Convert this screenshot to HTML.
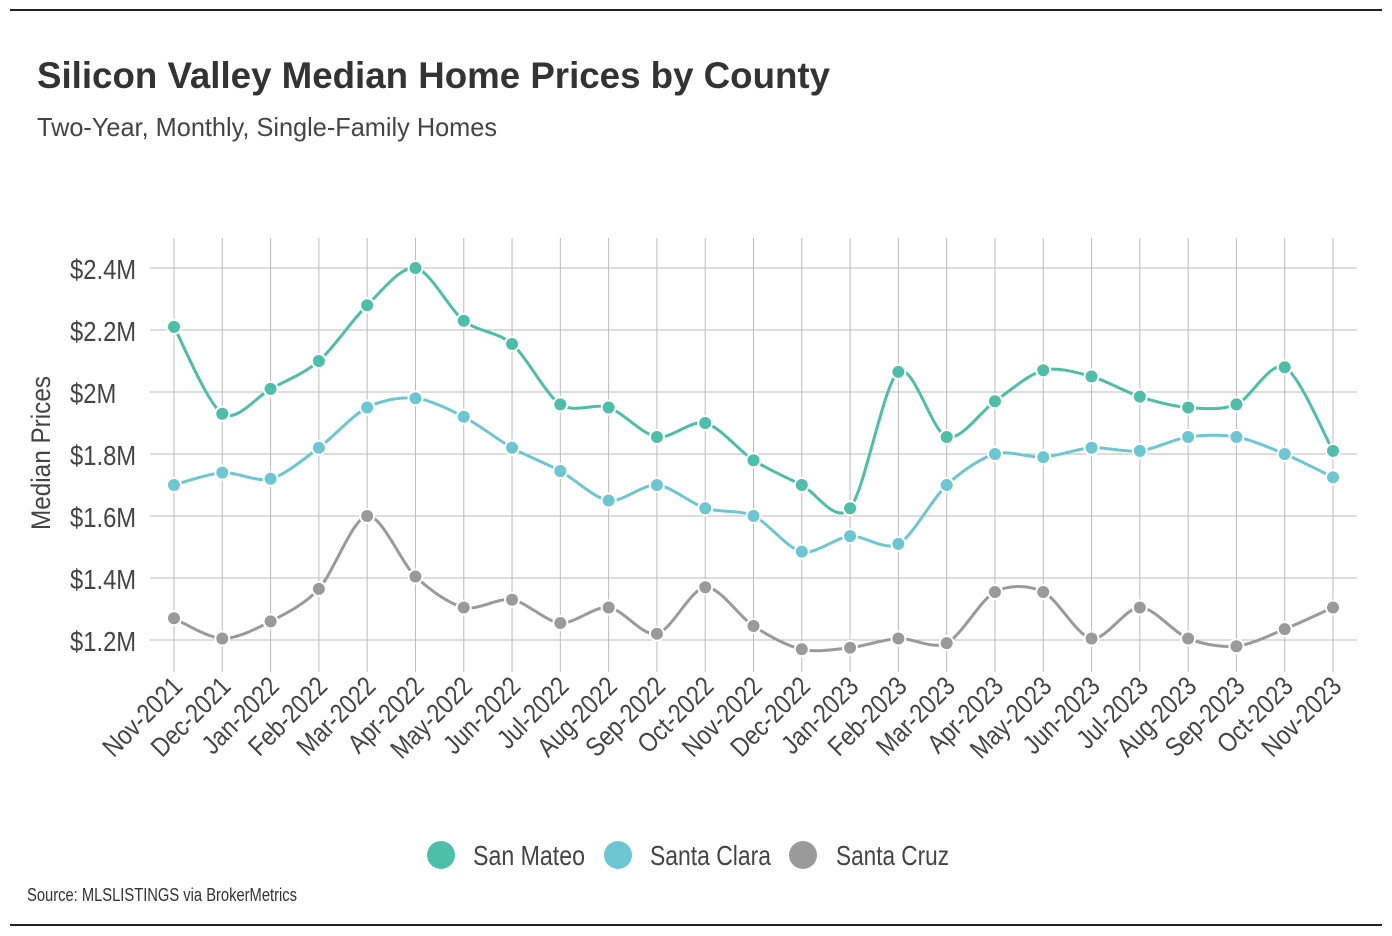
<!DOCTYPE html>
<html><head><meta charset="utf-8"><style>
body{margin:0;background:#fff;}
svg{display:block;font-family:"Liberation Sans",sans-serif;}
</style></head><body>
<svg id="chart" width="1392" height="936" viewBox="0 0 1392 936">
<line x1="10" y1="10" x2="1382" y2="10" stroke="#222" stroke-width="2"/>
<line x1="10" y1="925" x2="1382" y2="925" stroke="#222" stroke-width="2"/>
<text x="37" y="88" font-size="37" font-weight="bold" fill="#333" textLength="793" lengthAdjust="spacingAndGlyphs">Silicon Valley Median Home Prices by County</text>
<text x="37" y="136" font-size="26" fill="#444" textLength="460" lengthAdjust="spacingAndGlyphs">Two-Year, Monthly, Single-Family Homes</text>
<text transform="translate(50,453) rotate(-90)" text-anchor="middle" font-size="27" fill="#444" textLength="154" lengthAdjust="spacingAndGlyphs">Median Prices</text>
<g id="grid"></g><g id="series"></g><g id="xlabels"></g>
<g>
<g><circle cx="441" cy="855" r="14" fill="#4dbfa8"/><text x="473" y="865" font-size="28" fill="#444" textLength="112" lengthAdjust="spacingAndGlyphs">San Mateo</text></g>
<g><circle cx="618" cy="855" r="14" fill="#6cc7d3"/><text x="650" y="865" font-size="28" fill="#444" textLength="121" lengthAdjust="spacingAndGlyphs">Santa Clara</text></g>
<g><circle cx="803" cy="855" r="14" fill="#9a9a9a"/><text x="836" y="865" font-size="28" fill="#444" textLength="113" lengthAdjust="spacingAndGlyphs">Santa Cruz</text></g>
</g>
<text x="27" y="901" font-size="18" fill="#333" textLength="270" lengthAdjust="spacingAndGlyphs">Source:  MLSLISTINGS via BrokerMetrics</text>
</svg>
<script>
const categories=["Nov-2021","Dec-2021","Jan-2022","Feb-2022","Mar-2022","Apr-2022","May-2022","Jun-2022","Jul-2022","Aug-2022","Sep-2022","Oct-2022","Nov-2022","Dec-2022","Jan-2023","Feb-2023","Mar-2023","Apr-2023","May-2023","Jun-2023","Jul-2023","Aug-2023","Sep-2023","Oct-2023","Nov-2023"];
const sanMateo=[2.21,1.93,2.01,2.10,2.28,2.40,2.23,2.155,1.96,1.95,1.855,1.90,1.78,1.70,1.625,2.065,1.855,1.97,2.07,2.05,1.985,1.95,1.96,2.08,1.81];
const santaClara=[1.70,1.74,1.72,1.82,1.95,1.98,1.92,1.82,1.745,1.65,1.70,1.625,1.60,1.485,1.535,1.51,1.70,1.80,1.79,1.82,1.81,1.855,1.855,1.80,1.725];
const santaCruz=[1.27,1.205,1.26,1.365,1.60,1.405,1.305,1.33,1.255,1.305,1.22,1.37,1.245,1.17,1.175,1.205,1.19,1.355,1.355,1.205,1.305,1.205,1.18,1.235,1.305];
const yTicks=[1.2,1.4,1.6,1.8,2.0,2.2,2.4];
const yTickLabels=["$1.2M","$1.4M","$1.6M","$1.8M","$2M","$2.2M","$2.4M"];
const NS="http://www.w3.org/2000/svg";
const X=i=>174+i*(1333-174)/(categories.length-1);
const Y=v=>640-(v-1.2)*(640-268)/1.2;
function mk(tag,attrs,parent){const e=document.createElementNS(NS,tag);for(const k in attrs)e.setAttribute(k,attrs[k]);parent.appendChild(e);return e;}
const grid=document.getElementById('grid');
categories.forEach((c,i)=>{
  const l=mk('line',{x1:X(i),x2:X(i),y1:238,y2:672,stroke:'#bbb','stroke-width':1},grid);
  
  
});
yTicks.forEach((v,i)=>{
  const l=mk('line',{x1:150,x2:1357,y1:Y(v),y2:Y(v),stroke:'#bbb','stroke-width':1},grid);
  
  
  const t=mk('text',{transform:`translate(70,${Y(v)+11}) scale(0.85,1)`,'font-size':28,fill:'#444'},grid);
  t.textContent=yTickLabels[i];
  
  
});
const xl=document.getElementById('xlabels');
categories.forEach((c,i)=>{
  const t=mk('text',{transform:`translate(${X(i)+10},${688}) rotate(-45) scale(0.85,1)`,'text-anchor':'end','font-size':27,fill:'#444'},xl);
  t.textContent=c;
  
  
});
function path(pts){let d=`M${pts[0][0]},${pts[0][1]}`;const t=0.15;
  for(let i=0;i<pts.length-1;i++){const p0=pts[Math.max(0,i-1)],p1=pts[i],p2=pts[i+1],p3=pts[Math.min(pts.length-1,i+2)];
    d+=` C${p1[0]+(p2[0]-p0[0])*t},${p1[1]+(p2[1]-p0[1])*t} ${p2[0]-(p3[0]-p1[0])*t},${p2[1]-(p3[1]-p1[1])*t} ${p2[0]},${p2[1]}`;}
  return d;}
const sg=document.getElementById('series');
[[santaCruz,'#9a9a9a','santa-cruz'],[santaClara,'#6cc7d3','santa-clara'],[sanMateo,'#4dbfa8','san-mateo']].forEach(([vals,col,name])=>{
  const pts=vals.map((v,i)=>[X(i),Y(v)]);
  const p=mk('path',{d:path(pts),fill:'none',stroke:col,'stroke-width':3},sg);
  
  
  pts.forEach(pt=>{
    const c=mk('circle',{cx:pt[0],cy:pt[1],r:7,fill:col,stroke:'#fff','stroke-width':2},sg);
    
    
  });
});
</script>
</body></html>
